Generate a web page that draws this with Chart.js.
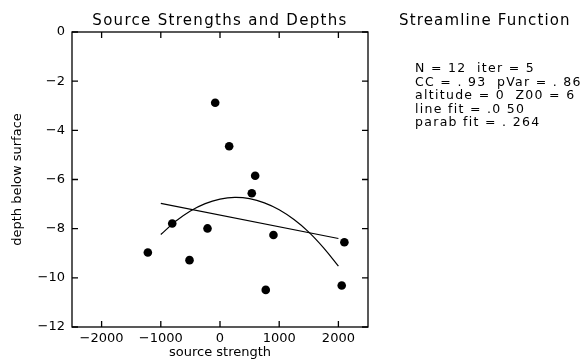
<!DOCTYPE html>
<html lang="en">
<head>
    <meta charset="UTF-8">
    <title>Source Strengths and Depths</title>
    <script src="https://cdn.jsdelivr.net/npm/chart.js"></script>
    <style>
        body {
            margin: 0;
            background: #fff;
            font-family: "DejaVu Sans", sans-serif;
        }
        .wrap {
            position: relative;
            width: 586px;
            height: 360px;
        }
        .title {
            position: absolute;
            top: 11px;
            left: 72px;
            width: 296px;
            text-align: center;
            font-size: 15px;
            letter-spacing: 1.3px;
            color: #000;
        }
        .side-title {
            position: absolute;
            top: 11px;
            left: 399px;
            font-size: 15px;
            letter-spacing: 1.15px;
            color: #000;
        }
        .stats {
            position: absolute;
            top: 61px;
            left: 415px;
            font-size: 12.5px;
            line-height: 13.6px;
            letter-spacing: 1.3px;
            white-space: pre;
            color: #000;
        }
    </style>
</head>
<body>
    <div class="wrap">
        <canvas id="depthChart" width="586" height="360"></canvas>
        <div class="title">Source Strengths and Depths</div>
        <div class="side-title">Streamline Function</div>
        <div class="stats">N = 12  iter = 5
CC = . 93  pVar = . 86
altitude = 0  Z00 = 6
line fit = .0 50
parab fit = . 264</div>
    </div>

    <script>
        // source points
        const srcStrength = [-81, 155, 594, 537, -807, -211, 903, 2101, -1219, -515, 2056, 773];
        const srcDepth = [-2.88, -4.65, -5.85, -6.56, -7.79, -7.99, -8.26, -8.55, -8.97, -9.28, -10.31, -10.49];

        // straight line fit
        const lineFitX = [-1000, 2000];
        const lineFitY = [-6.97, -8.40];

        // parabola fit, sampled along the drawn curve
        const parabX = [-1000, -750, -500, -250, 0, 250, 500, 750, 1000, 1250, 1500, 1750, 2000];
        const parabY = [-8.24, -7.70, -7.28, -6.98, -6.80, -6.73, -6.78, -6.95, -7.23, -7.63, -8.14, -8.78, -9.52];

        const xTicks = [-2000, -1000, 0, 1000, 2000];
        const yTicks = [0, -2, -4, -6, -8, -10, -12];

        const toXY = (xs, ys) => xs.map((v, i) => ({ x: v, y: ys[i] }));
        const minus = v => String(v).replace('-', '\u2212');
        const tickFont = { family: 'DejaVu Sans', size: 13 };

        // box around the plot with inward ticks on every side
        const frameTicks = {
            id: 'frameTicks',
            afterDraw(chart) {
                const { ctx, chartArea: a, scales: { x, y } } = chart;
                const len = 6;
                ctx.save();
                ctx.strokeStyle = '#000';
                ctx.lineWidth = 1.3;
                ctx.strokeRect(a.left, a.top, a.right - a.left, a.bottom - a.top);
                ctx.beginPath();
                x.ticks.forEach(t => {
                    const px = x.getPixelForValue(t.value);
                    ctx.moveTo(px, a.bottom); ctx.lineTo(px, a.bottom - len);
                    ctx.moveTo(px, a.top); ctx.lineTo(px, a.top + len);
                });
                y.ticks.forEach(t => {
                    const py = y.getPixelForValue(t.value);
                    ctx.moveTo(a.left, py); ctx.lineTo(a.left + len, py);
                    ctx.moveTo(a.right, py); ctx.lineTo(a.right - len, py);
                });
                ctx.stroke();
                ctx.restore();
            }
        };

        const ctx = document.getElementById('depthChart').getContext('2d');
        const chart = new Chart(ctx, {
            type: 'scatter',
            data: {
                datasets: [
                    {
                        label: 'sources',
                        data: toXY(srcStrength, srcDepth),
                        backgroundColor: '#000',
                        borderColor: '#000',
                        pointRadius: 4.3,
                        pointBorderWidth: 0
                    },
                    {
                        label: 'line fit',
                        data: toXY(lineFitX, lineFitY),
                        showLine: true,
                        borderColor: '#000',
                        borderWidth: 1.2,
                        pointRadius: 0
                    },
                    {
                        label: 'parab fit',
                        data: toXY(parabX, parabY),
                        showLine: true,
                        borderColor: '#000',
                        borderWidth: 1.2,
                        pointRadius: 0,
                        tension: 0.4
                    }
                ]
            },
            options: {
                responsive: false,
                animation: false,
                layout: { padding: { top: 32, right: 218, left: 0, bottom: 0 } },
                plugins: {
                    legend: { display: false },
                    tooltip: { enabled: false }
                },
                scales: {
                    x: {
                        min: -2500,
                        max: 2500,
                        afterBuildTicks: s => { s.ticks = xTicks.map(v => ({ value: v })); },
                        afterFit: s => { s.height = 33; },
                        grid: { display: false, drawTicks: false },
                        border: { display: false },
                        ticks: { color: '#000', font: tickFont, padding: 4, maxRotation: 0, callback: v => minus(v) },
                        title: { display: true, text: 'source strength', color: '#000', font: tickFont, padding: { top: 0, bottom: 0 } }
                    },
                    y: {
                        min: -12,
                        max: 0,
                        afterBuildTicks: s => { s.ticks = yTicks.map(v => ({ value: v })); },
                        afterFit: s => { s.width = 72; },
                        grid: { display: false, drawTicks: false },
                        border: { display: false },
                        ticks: { color: '#000', font: tickFont, padding: 7, callback: v => minus(v) },
                        title: { display: true, text: 'depth below surface', color: '#000', font: tickFont, padding: { top: 10, bottom: 0 } }
                    }
                }
            },
            plugins: [frameTicks]
        });
    </script>
</body>
</html>
